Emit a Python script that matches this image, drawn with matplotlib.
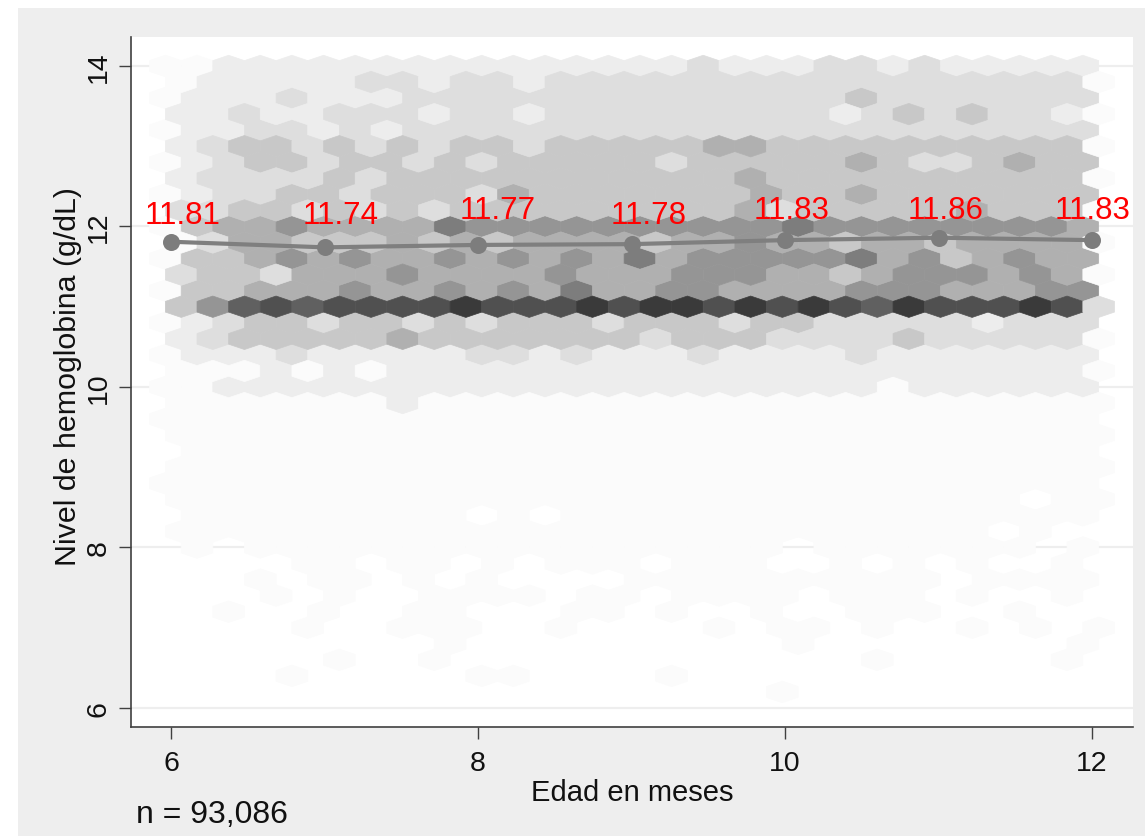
import numpy as np
import matplotlib
matplotlib.use("Agg")
import matplotlib.pyplot as plt
from matplotlib.colors import ListedColormap
from matplotlib.patches import Rectangle

plt.rcParams['font.family'] = ['Liberation Sans', 'DejaVu Sans']

W, H = 1145, 837

# mean hemoglobin per age
edad = [6, 7, 8, 9, 10, 11, 12]
media = [11.81, 11.74, 11.77, 11.78, 11.83, 11.86, 11.83]
etiquetas = ['11.81', '11.74', '11.77', '11.78', '11.83', '11.86', '11.83']
label_dx = [11.5, 16.5, 19.5, 17.5, 6.5, 7.5, 1]
label_dy = [18.7, 24.4, 27, 21.2, 22.1, 19.7, 22.1]

x_ticks = [6, 8, 10, 12]
y_ticks = [6, 8, 10, 12, 14]

# density shade per hexagon, one row per hemoglobin level (14.0 down to 6.2)
# '.' = empty bin, 1-9 and a = light to dark
filas = [
    "11222 22222 22222 22322 23323 22222",
    "12222 23323 32333 33333 33333 33331",
    "12223 22233 33333 33333 33433 33333",
    "22322 33323 32333 33333 32343 43321",
    "12233 23233 33333 33333 33333 33333",
    "23443 43434 43444 44554 44444 44441",
    "12344 34434 34444 43444 44543 34544",
    "23333 43444 44444 44454 44444 44441",
    "12334 43444 35444 44445 44544 44444",
    "33443 43434 44444 44453 44444 54441",
    "14556 55557 66666 66666 76666 66665",
    "13554 44545 45555 45565 54554 55551",
    "14456 56556 56565 75666 66756 45655",
    "34435 55655 55655 56665 54566 65651",
    "14455 56556 56575 56655 55666 55566",
    "46898 9999a 999a9 aa9a9 a98a9 99a93",
    "12344 34434 34443 44434 43333 32333",
    "23444 44544 44444 34443 33343 33331",
    "12223 22222 33232 22322 22322 22222",
    "11121 21222 22222 22222 22222 22221",
    "11222 22222 22222 22222 22212 22222",
    "11111 11211 11111 11111 11111 11111",
    "11111 11111 11111 11111 11111 11111",
    "11111 11111 11111 11111 11111 11111",
    ".1111 11111 11111 11111 11111 11111",
    "11111 11111 11111 11111 11111 11111",
    "11111 11111 11111 11111 11111 11111",
    "11111 11111 11111 11111 11111 11.11",
    ".1111 11111 .1.11 11111 11111 11111",
    "11111 11111 11111 11111 11111 1.1..",
    ".1.11 11111 11111 11111 .1111 111.1",
    "....1 1.11. 1.111 .111. .1.1. 1..1.",
    "...1. 11.1. 1.... 11111 11111 .1111",
    "...1. 1..11 11.11 .1111 .111. 1..1.",
    "..1.. 1..11 ...11 .1..1 ..111 ..1..",
    "....1 ..111 ..1.. ..1.1 1.1.. 1.1.1",
    "..... ....1 ..... ..... 1.... ....1",
    "..... 1..1. ..... ..... ..1.. ...1.",
    "....1 ..... 11... .1... ..... .....",
    "..... ..... ..... ....1 ..... .....",
]
grises = ['#fbfbfb', '#ededed', '#dedede', '#c8c8c8', '#b0b0b0',
          '#959595', '#7d7d7d', '#606060', '#505050', '#3a3a3a']

# bin layout of the hexagons
x0 = 5.9629
sx = 0.20612
nx, ny = 30, 20
ymin, ymax = 6.0, 14.0

hx, hy, hc = [], [], []
for r, fila in enumerate(filas):
    fila = fila.replace(' ', '')
    assert len(fila) == 30, r
    nivel = 14.0 - 0.2 * r
    offset = 0.0 if r % 2 == 0 else sx / 2
    for i, ch in enumerate(fila):
        if ch != '.':
            hx.append(x0 + i * sx + offset)
            hy.append(nivel)
            hc.append(int(ch, 16))

fig = plt.figure(figsize=(W / 100, H / 100), dpi=100, facecolor='white')
fig.add_artist(Rectangle((18 / W, 0), 1 - 18 / W, 1 - 9 / H, transform=fig.transFigure,
                         facecolor='#eeeeee', edgecolor='none', zorder=-5))

left, right, top, bottom = 131.3, 1133, 38, 727.7
ax = fig.add_axes([left / W, 1 - bottom / H, (right - left) / W, (bottom - top) / H])
ax.set_facecolor('white')

ax.hexbin(hx, hy, C=hc, reduce_C_function=np.max,
          gridsize=(nx, ny), extent=(x0, x0 + nx * sx, ymin, ymax),
          cmap=ListedColormap(grises), vmin=0.5, vmax=10.5,
          edgecolors='face', linewidths=0.5, zorder=2)

ax.plot(edad, media, color='#7f7f7f', lw=3, zorder=3)
ax.scatter(edad, media, s=150, color='#7d7d7d', linewidths=0, zorder=4)

for xv, yv, txt, dx, dy in zip(edad, media, etiquetas, label_dx, label_dy):
    ax.annotate(txt, (xv, yv), xytext=(dx, dy), textcoords='offset pixels',
                ha='center', va='baseline', color='#ff0000', fontsize=22.5, zorder=5)

ax.set_xlim(5.741, 12.267)
ax.set_ylim(5.767, 14.361)
ax.set_xticks(x_ticks)
ax.set_yticks(y_ticks)
ax.grid(True, axis='y', color='#eeeeee', lw=1.6, zorder=1)
ax.set_axisbelow(True)

for s in ['top', 'right']:
    ax.spines[s].set_visible(False)
for s in ['left', 'bottom']:
    ax.spines[s].set_color('#404040')
    ax.spines[s].set_linewidth(1.2)

ax.tick_params(axis='x', length=8.6, width=1, color='#404040', labelsize=20.5,
               labelcolor='#111111', pad=8.5)
ax.tick_params(axis='y', length=8.6, width=1, color='#404040', labelsize=20.5,
               labelcolor='#111111', pad=5.5)
for lab in ax.get_yticklabels():
    lab.set_rotation(90)
    lab.set_va('center')

ax.set_xlabel('Edad en meses', fontsize=21, color='#111111', labelpad=1)
ax.set_ylabel('Nivel de hemoglobina (g/dL)', fontsize=21.9, color='#111111', labelpad=2.5)
ax.yaxis.label.set_y(0.5085)

fig.text(136 / W, 1 - 823 / H, 'n = 93,086', fontsize=23, color='#111111',
         ha='left', va='baseline')

fig.savefig('out.png', dpi=100, facecolor=fig.get_facecolor())
